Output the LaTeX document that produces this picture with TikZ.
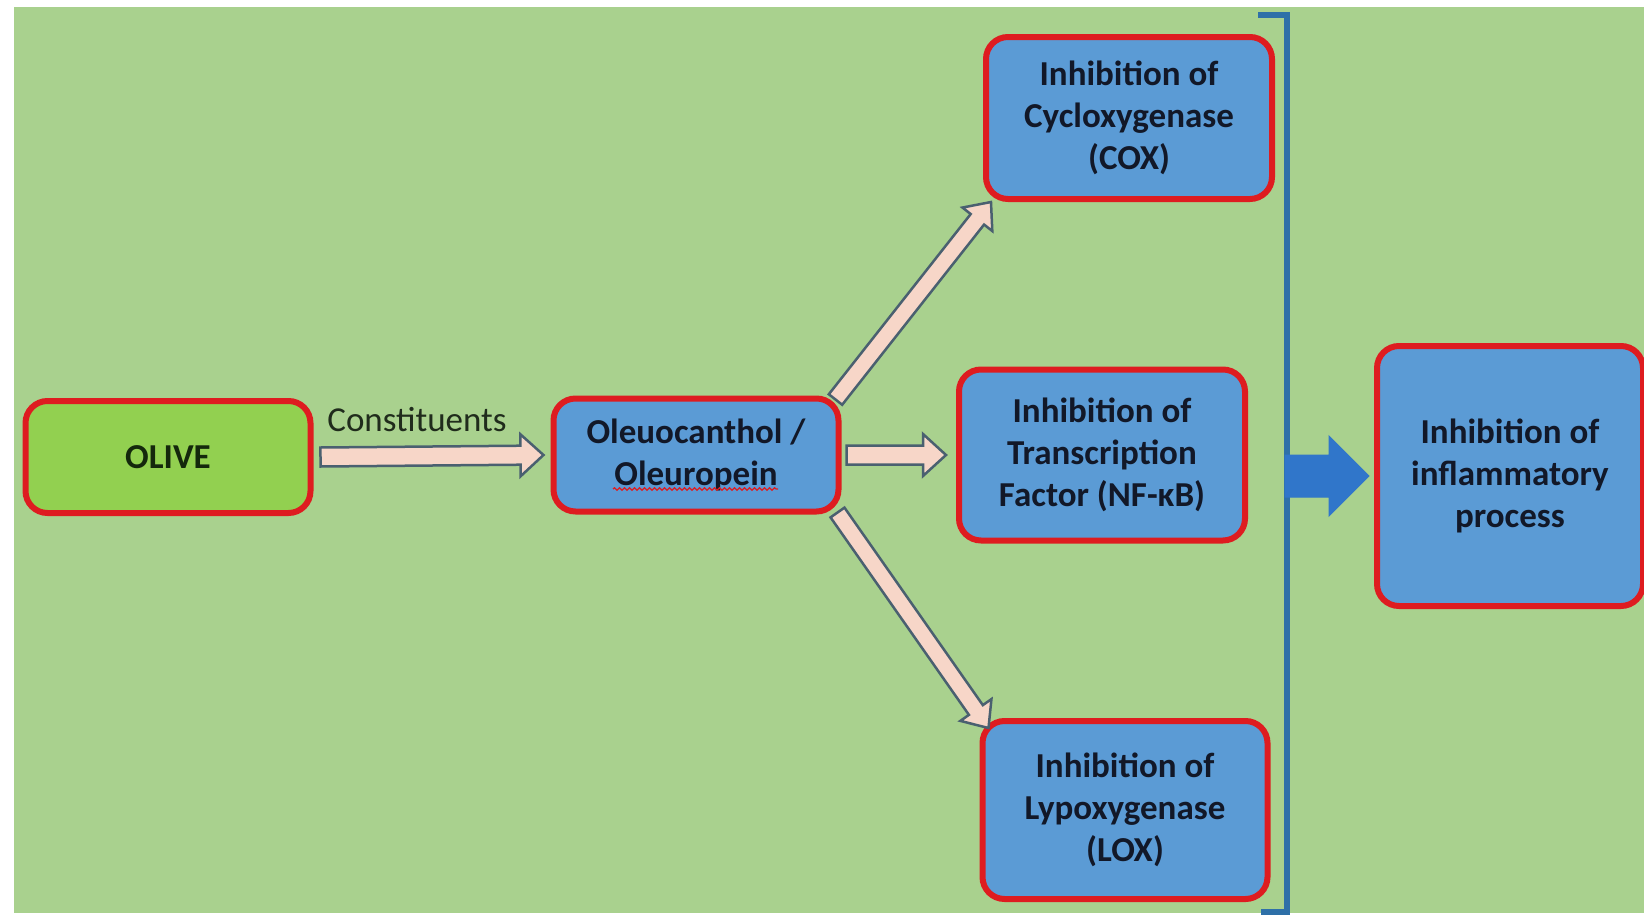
\documentclass[tikz,border=0pt]{standalone}
\usepackage{fontspec}
\setmainfont{Carlito}
\usetikzlibrary{calc,decorations.pathmorphing}

\definecolor{panelgreen}{RGB}{169,209,142}
\definecolor{olivefill}{RGB}{146,208,80}
\definecolor{boxblue}{RGB}{91,155,213}
\definecolor{boxred}{RGB}{222,28,32}
\definecolor{inktext}{RGB}{18,24,40}
\definecolor{arrowline}{RGB}{74,96,112}
\definecolor{arrowfill}{RGB}{247,214,200}
\definecolor{bracketblue}{RGB}{46,112,168}
\definecolor{bigarrow}{RGB}{48,118,202}

% block arrow from #2 to #3: shaft half width #4, head half width #5, head length #6
\newcommand\blockarrow[6]{%
  \path[#1] let \p1=(#2), \p2=(#3),
    \n1={atan2(\y2-\y1,\x2-\x1)}, \n2={veclen(\x2-\x1,\y2-\y1)} in
    {[shift={(\p1)}, rotate=\n1]
      (0pt,-#4pt) -- ({\n2-#6pt},-#4pt) -- ({\n2-#6pt},-#5pt) -- ({\n2},0pt)
      -- ({\n2-#6pt},#5pt) -- ({\n2-#6pt},#4pt) -- (0pt,#4pt) -- cycle};%
}

\begin{document}
\begin{tikzpicture}[x=1pt,y=-1pt,
  card/.style={rectangle, rounded corners=22, line width=6, draw=boxred,
    align=center, text=inktext, font=\fontsize{35}{42}\selectfont\bfseries},
  bluecard/.style={card, fill=boxblue},
  olivecard/.style={card, fill=olivefill, text={rgb,255:red,20;green,40;blue,12}},
  thinarrow/.style={draw=arrowline, line width=2.5, fill=arrowfill, line join=miter},
  fatarrow/.style={fill=bigarrow, draw=bigarrow, line width=1}]

\useasboundingbox (0,0) rectangle (1644,918);
\fill[white] (0,0) rectangle (1644,918);
\fill[panelgreen] (14,7) rectangle (1644,913);

% boxes
\node[olivecard, minimum width=285, minimum height=112] (olive) at (168,457) {OLIVE};
\node[bluecard, minimum width=285, minimum height=113] (oleo) at (696,455)
  {Oleuocanthol /\\Oleuropein};
\node[bluecard, minimum width=286, minimum height=162] (cox) at (1129,118)
  {Inhibition of\\Cycloxygenase\\(COX)};
\node[bluecard, minimum width=286, minimum height=171] (nf) at (1102,455)
  {Inhibition of\\Transcription\\Factor (NF-κB)};
\node[bluecard, minimum width=285, minimum height=178] (lox) at (1125,810)
  {Inhibition of\\Lypoxygenase\\(LOX)};
\node[bluecard, minimum width=266, minimum height=260] (infl) at (1510,476)
  {Inhibition of\\inflammatory\\process};

% spell-check squiggle under the second word
\draw[boxred, line width=1.3, decorate,
  decoration={snake, amplitude=1.2pt, segment length=5pt}]
  ([shift={(-83,34)}]oleo.center) -- ([shift={(82,34)}]oleo.center);

% label over the first arrow
\node[text={rgb,255:red,32;green,44;blue,28}, font=\fontsize{35}{42}\selectfont]
  (constit) at (417,420) {Constituents};

% hollow arrows
\blockarrow{thinarrow}{[xshift=7]olive.east}{[xshift=-7]oleo.west}{9.5}{21}{23}
\blockarrow{thinarrow}{[xshift=5]oleo.east}{[xshift=-10]nf.west}{9.5}{21}{23}
\blockarrow{thinarrow}{[shift={(-6,4)}]oleo.north east}{[xshift=8]cox.south west}{8.5}{19}{22}
\blockarrow{thinarrow}{[shift={(-4,-2)}]oleo.south east}{[shift={(9,10)}]lox.north west}{8.5}{19}{22}

% bracket gathering the three effects
\draw[bracketblue, line width=6] (1258,15) -- (1287,15) -- (1287,912) -- (1261,912);
\coordinate (brk) at (1285,476);

% arrow from the bracket to the outcome
\blockarrow{fatarrow}{brk}{[xshift=-5]infl.west}{21}{40}{40}
\end{tikzpicture}
\end{document}
